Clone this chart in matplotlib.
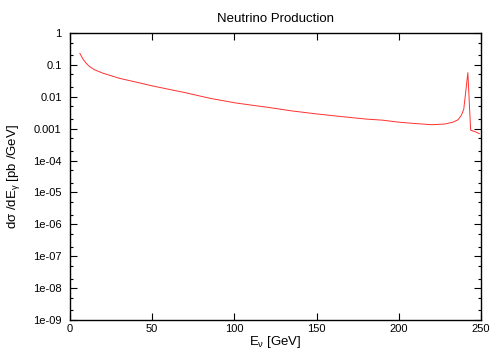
import matplotlib
matplotlib.use("Agg")
import matplotlib.pyplot as plt
from matplotlib.ticker import FixedLocator, FuncFormatter

plt.rcParams["font.family"] = ["Liberation Sans", "DejaVu Sans"]
plt.rcParams["mathtext.default"] = "regular"

# Neutrino energy spectrum
energy = [6, 8, 10, 12, 15, 20, 30, 40, 50, 60, 70, 85, 100, 110, 120, 135,
          150, 165, 180, 190, 200, 210, 220, 228, 233, 236, 238, 239.5, 242,
          243.7, 246.5, 249]
dsigma = [0.23, 0.15, 0.11, 0.088, 0.07, 0.055, 0.038, 0.029, 0.022, 0.0172,
          0.0135, 0.009, 0.0065, 0.0055, 0.0047, 0.0036, 0.0029, 0.0024,
          0.002, 0.00185, 0.0016, 0.00145, 0.00133, 0.0014, 0.0016, 0.0019,
          0.0026, 0.004, 0.057, 0.0009, 0.0008, 0.0007]

x_ticks = [0, 50, 100, 150, 200, 250]
y_ticks = [1e-9, 1e-8, 1e-7, 1e-6, 1e-5, 1e-4, 1e-3, 1e-2, 1e-1, 1]
y_labels = ["1e-09", "1e-08", "1e-07", "1e-06", "1e-05", "1e-04",
            "0.001", "0.01", "0.1", "1"]

fig = plt.figure(figsize=(5, 3.5), dpi=100)
ax = fig.add_axes([0.14, 0.0857, 0.822, 0.82])

ax.plot(energy, dsigma, color="#ff3030", lw=0.7)

ax.set_yscale("log")
ax.set_xlim(0, 250)
ax.set_ylim(1e-9, 1)

ax.xaxis.set_major_locator(FixedLocator(x_ticks))
ax.yaxis.set_major_locator(FixedLocator(y_ticks))
ax.yaxis.set_major_formatter(FuncFormatter(lambda v, p: y_labels[y_ticks.index(min(y_ticks, key=lambda t: abs(t - v)))]))
minors = [m * 10.0 ** e for e in range(-9, 0) for m in (2, 5)]
ax.yaxis.set_minor_locator(FixedLocator(minors))
ax.yaxis.set_minor_formatter(FuncFormatter(lambda v, p: ""))

ax.tick_params(which="both", direction="in", top=True, right=True,
               labelsize=8, width=0.8)
ax.tick_params(which="major", length=5)
ax.tick_params(axis="y", which="major", pad=6)
ax.tick_params(axis="x", which="major", pad=3)
ax.tick_params(which="minor", length=2.5)
for s in ax.spines.values():
    s.set_linewidth(1.0)

ax.set_title("Neutrino Production", fontsize=9.5, pad=8)
ax.set_xlabel("E$_{\\nu}$ [GeV]", fontsize=9.5, labelpad=0)
ax.set_ylabel("dσ /dE$_{\\gamma}$ [pb /GeV]", fontsize=9.5, labelpad=8)

fig.savefig("out.png", dpi=100)
